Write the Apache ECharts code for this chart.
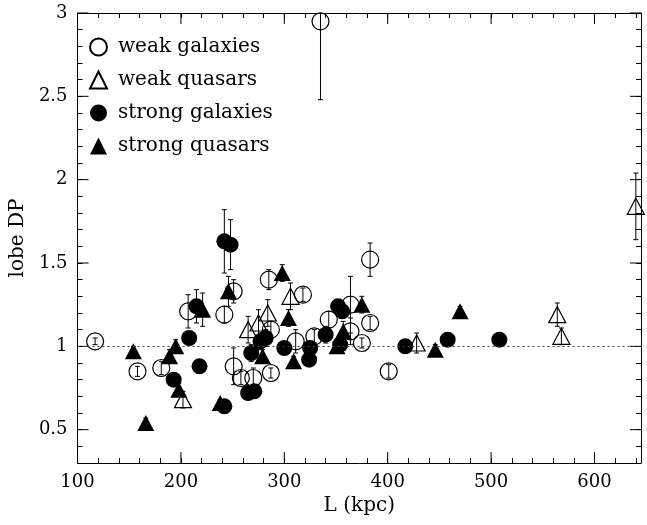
<!DOCTYPE html>
<html><head><meta charset="utf-8">
<script src="https://cdn.jsdelivr.net/npm/echarts@6/dist/echarts.min.js"></script>
<style>html,body{margin:0;padding:0;background:#fff}#c{width:647px;height:525px}</style>
</head><body><div id="c"></div>
<script>
const X_MIN = 100, X_MAX = 645, Y_MIN = 0.3, Y_MAX = 3;
const xMajorTicks = [100, 200, 300, 400, 500, 600];
const yMajorTicks = [0.5, 1, 1.5, 2, 2.5, 3];
const refLine = 1;

// weak galaxies
const wgL   = [117, 158, 181, 207, 242, 251, 251, 258, 270, 287, 285, 287, 311, 329, 318, 343, 364, 364, 375, 383, 383, 401, 335];
const wgDP  = [1.03, 0.85, 0.87, 1.21, 1.19, 1.33, 0.88, 0.81, 0.81, 0.84, 1.40, 1.10, 1.03, 1.06, 1.31, 1.16, 1.25, 1.09, 1.02, 1.14, 1.52, 0.85, 2.95];
const wgErr = [0.02, 0.03, 0.04, 0.10, 0.05, 0.07, 0.11, 0.04, 0.06, 0.03, 0.06, 0.05, 0.07, 0.04, 0.04, 0.05, 0.17, 0.08, 0.03, 0.04, 0.10, 0.04, 0.47];
// weak quasars
const wqL   = [202, 265, 275, 284, 306, 428, 564, 568, 640];
const wqDP  = [0.68, 1.10, 1.14, 1.20, 1.30, 1.02, 1.19, 1.06, 1.84];
const wqErr = [0.05, 0.08, 0.08, 0.08, 0.08, 0.06, 0.07, 0.05, 0.20];
// strong galaxies
const sgL   = [193, 208, 218, 215, 242, 248, 242, 265, 271, 268, 277, 282, 300, 325, 324, 340, 352, 356, 354, 417, 458, 508];
const sgDP  = [0.80, 1.05, 0.88, 1.24, 1.63, 1.61, 0.64, 0.72, 0.73, 0.96, 1.03, 1.05, 0.99, 0.99, 0.92, 1.07, 1.24, 1.21, 1.01, 1.00, 1.04, 1.04];
const sgErr = [0.04, 0.04, 0.04, 0.10, 0.19, 0.15, 0.02, 0.03, 0.03, 0.05, 0.05, 0.05, 0.03, 0.03, 0.03, 0.05, 0.04, 0.04, 0.03, 0.02, 0.02, 0.02];
// strong quasars
const sqL   = [154, 166, 189, 195, 198, 221, 238, 246, 279, 298, 304, 309, 351, 357, 375, 446, 470];
const sqDP  = [0.97, 0.54, 0.94, 1.00, 0.74, 1.22, 0.66, 1.33, 0.94, 1.44, 1.17, 0.91, 1.00, 1.09, 1.25, 0.98, 1.21];
const sqErr = [0.03, 0.03, 0.04, 0.04, 0.04, 0.10, 0.02, 0.09, 0.04, 0.05, 0.05, 0.03, 0.04, 0.06, 0.05, 0.03, 0.03];

const FONT = 'DejaVu Serif';
const zip = (a, b, c) => a.map((v, i) => c ? [v, b[i], c[i]] : [v, b[i]]);

const errData = [].concat(zip(wgL, wgDP, wgErr), zip(wqL, wqDP, wqErr), zip(sgL, sgDP, sgErr), zip(sqL, sqDP, sqErr));

function errRender(params, api) {
  const x = api.value(0), y = api.value(1), e = api.value(2);
  const hi = Math.min(y + e, Y_MAX), lo = Math.max(y - e, Y_MIN);
  const pHi = api.coord([x, hi]), pLo = api.coord([x, lo]);
  const st = { stroke: '#000', lineWidth: 1 };
  const ch = [{ type: 'line', shape: { x1: pHi[0], y1: pHi[1], x2: pLo[0], y2: pLo[1] }, style: st }];
  const cw = 2.5;
  if (y + e <= Y_MAX) ch.push({ type: 'line', shape: { x1: pHi[0] - cw, y1: pHi[1], x2: pHi[0] + cw, y2: pHi[1] }, style: st });
  if (y - e >= Y_MIN) ch.push({ type: 'line', shape: { x1: pLo[0] - cw, y1: pLo[1], x2: pLo[0] + cw, y2: pLo[1] }, style: st });
  return { type: 'group', children: ch };
}

const MAJ = 11;
function yTickRender(params, api) {
  const v = api.value(1);
  const l = api.coord([X_MIN, v]), r = api.coord([X_MAX, v]);
  const st = { stroke: '#000', lineWidth: 1 };
  return { type: 'group', children: [
    { type: 'line', shape: { x1: l[0], y1: l[1], x2: l[0] + MAJ, y2: l[1] }, style: st },
    { type: 'line', shape: { x1: r[0] - MAJ, y1: r[1], x2: r[0], y2: r[1] }, style: st }
  ]};
}
function xTickRender(params, api) {
  const v = api.value(0);
  const b = api.coord([v, Y_MIN]), t = api.coord([v, Y_MAX]);
  const st = { stroke: '#000', lineWidth: 1 };
  return { type: 'group', children: [
    { type: 'line', shape: { x1: b[0], y1: b[1], x2: b[0], y2: b[1] - MAJ }, style: st },
    { type: 'line', shape: { x1: t[0], y1: t[1], x2: t[0], y2: t[1] + MAJ }, style: st }
  ]};
}

const axLine = { show: true, lineStyle: { color: '#000', width: 1 } };
const minorTick = { show: true, inside: true, length: 5, lineStyle: { color: '#000', width: 1 } };
const labelStyle = { color: '#000', fontFamily: FONT, fontSize: 18 };
const nameStyle = { color: '#000', fontFamily: FONT, fontSize: 20 };

const hollow = { color: 'rgba(0,0,0,0)', borderColor: '#000', borderWidth: 1.2, opacity: 1 };
const filled = { color: '#000', borderColor: '#000', borderWidth: 0, opacity: 1 };

const chart = echarts.init(document.getElementById('c'), null, { renderer: 'canvas' });
chart.setOption({
  animation: false,
  backgroundColor: '#fff',
  grid: { left: 76, right: 6, top: 13, bottom: 62, containLabel: false },
  legend: {
    data: ['weak galaxies', 'weak quasars', 'strong galaxies', 'strong quasars'],
    orient: 'vertical', left: 84, top: 32, itemWidth: 17, itemHeight: 17, itemGap: 13,
    selectedMode: false,
    textStyle: { color: '#000', fontFamily: FONT, fontSize: 20, lineHeight: 17, padding: [0, 0, 0, 6] }
  },
  xAxis: [
    { type: 'value', min: X_MIN, max: X_MAX, interval: 20, position: 'bottom',
      axisLine: axLine, axisTick: minorTick, splitLine: { show: false },
      axisLabel: Object.assign({ margin: 10, formatter: v => (v % 100 === 0 && v <= 600) ? String(v) : '' }, labelStyle),
      name: 'L (kpc)', nameLocation: 'middle', nameGap: 32, nameTextStyle: nameStyle },
    { type: 'value', min: X_MIN, max: X_MAX, interval: 20, position: 'top',
      axisLine: axLine, axisTick: minorTick, splitLine: { show: false }, axisLabel: { show: false } }
  ],
  yAxis: [
    { type: 'value', min: Y_MIN, max: Y_MAX, interval: 0.1, position: 'left',
      axisLine: axLine, axisTick: minorTick, splitLine: { show: false },
      axisLabel: Object.assign({ margin: 10, formatter: v => { const r = Math.round(v * 2) / 2; return Math.abs(v - r) < 1e-6 ? String(r) : ''; } }, labelStyle),
      name: 'lobe DP', nameLocation: 'middle', nameGap: 42, nameRotate: 90, nameTextStyle: nameStyle },
    { type: 'value', min: Y_MIN, max: Y_MAX, interval: 0.1, position: 'right',
      axisLine: axLine, axisTick: minorTick, splitLine: { show: false }, axisLabel: { show: false } }
  ],
  series: [
    { type: 'custom', xAxisIndex: 0, yAxisIndex: 0, silent: true, z: 1,
      data: yMajorTicks.map(v => [X_MIN, v]), renderItem: yTickRender, encode: { x: 0, y: 1 } },
    { type: 'custom', xAxisIndex: 0, yAxisIndex: 0, silent: true, z: 1,
      data: xMajorTicks.map(v => [v, Y_MIN]), renderItem: xTickRender, encode: { x: 0, y: 1 } },
    { type: 'line', xAxisIndex: 0, yAxisIndex: 0, data: [], silent: true, z: 1,
      markLine: { silent: true, symbol: 'none', label: { show: false },
        lineStyle: { color: '#444', type: [2, 3], width: 1 },
        data: [{ yAxis: refLine }] } },
    { type: 'custom', xAxisIndex: 0, yAxisIndex: 0, silent: true, z: 2,
      data: errData, renderItem: errRender, encode: { x: 0, y: 1 } },
    { name: 'weak galaxies', type: 'scatter', symbol: 'circle', symbolSize: 17, z: 3,
      data: zip(wgL, wgDP), itemStyle: hollow, emphasis: { disabled: true } },
    { name: 'weak quasars', type: 'scatter', symbol: 'triangle', symbolSize: [17, 16], z: 3,
      data: zip(wqL, wqDP), itemStyle: hollow, emphasis: { disabled: true } },
    { name: 'strong galaxies', type: 'scatter', symbol: 'circle', symbolSize: 16, z: 4,
      data: zip(sgL, sgDP), itemStyle: filled, emphasis: { disabled: true } },
    { name: 'strong quasars', type: 'scatter', symbol: 'triangle', symbolSize: [17, 16], z: 4,
      data: zip(sqL, sqDP), itemStyle: filled, emphasis: { disabled: true } }
  ]
});
</script></body></html>
